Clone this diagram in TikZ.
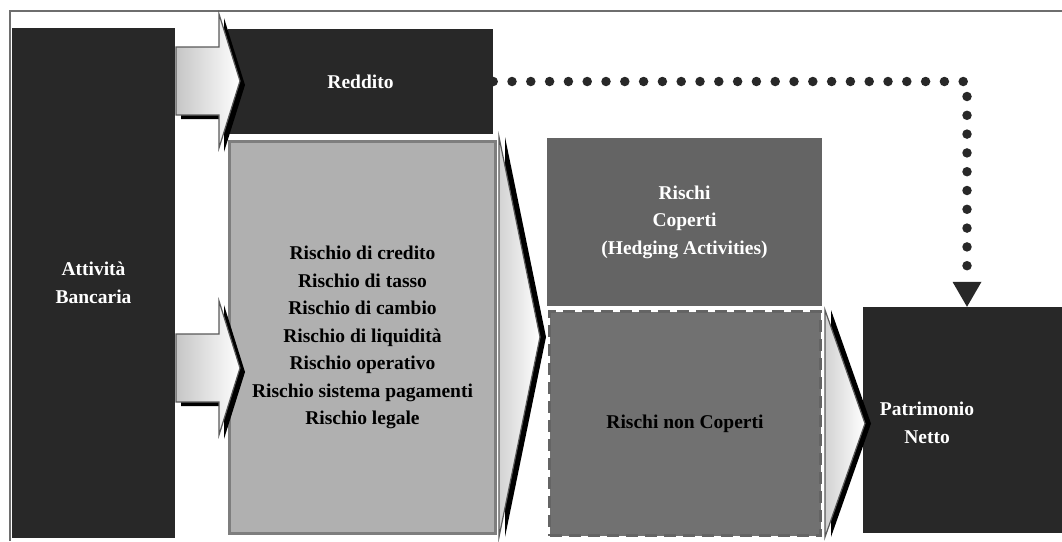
\documentclass[tikz,border=0pt]{standalone}
\usepackage{fontspec}
\setmainfont{Liberation Serif}
\usetikzlibrary{arrows.meta}
\tikzset{>=latex}
\definecolor{boxdark}{HTML}{282828}
\definecolor{riskfill}{HTML}{B0B0B0}
\definecolor{riskline}{HTML}{7E7E7E}
\definecolor{hedged}{HTML}{646464}
\definecolor{unhedged}{HTML}{717171}
\definecolor{frameline}{HTML}{6E6E6E}
\tikzset{
    box/.style={inner sep=0pt, align=center, font=\fontsize{19.5pt}{27.5pt}\selectfont\bfseries},
    darkbox/.style={box, fill=boxdark, text=white},
    dotline/.style={draw=boxdark, line width=9.5pt, line cap=round, dash pattern=on 0pt off 18.8pt,
        -{Triangle[length=25pt,width=29pt,line width=0pt]}},
}
\newcommand\blockarrow[2]{% left end of the shaft, centre line
    \fill[black] (#1+5,#2-30) -- (#1+48,#2-30) -- (#1+48,#2-63) -- (#1+69,#2+4) -- (#1+48,#2+71) -- (#1+48,#2+38) -- (#1+5,#2+38) -- cycle;
    \shadedraw[left color=gray!45, right color=white, draw=gray!70!black, line width=1.2pt]
        (#1,#2-34) -- (#1+43,#2-34) -- (#1+43,#2-67) -- (#1+64,#2) -- (#1+43,#2+67) -- (#1+43,#2+34) -- (#1,#2+34) -- cycle;
}
\newcommand\chevron[4]{% x, top, bottom, tip
    \fill[black] (#1+6,#2) -- (#4+6,{(#2+#3)/2}) -- (#1+6,#3) -- cycle;
    \shadedraw[left color=gray!35, right color=white, draw=gray!70!black, line width=1.2pt]
        (#1,#2) -- (#4,{(#2+#3)/2}) -- (#1,#3) -- cycle;
}

\begin{document}
\begin{tikzpicture}[x=1pt, y=-1pt]
    \useasboundingbox (0,0) rectangle (1062,541);
    \draw[frameline, line width=2.5pt] (10,541) -- (10,11) -- (1062,11);

    \node[darkbox, minimum width=163pt, minimum height=510pt] (attivita) at (93.5,283) {Attività\\Bancaria};
    \node[darkbox, minimum width=265pt, minimum height=105pt] (reddito) at (360.5,81.5) {Reddito};
    \node[box, fill=riskfill, draw=riskline, line width=3pt, minimum width=266pt, minimum height=392pt] (rischi) at (362.5,337.5)
        {Rischio di credito\\Rischio di tasso\\Rischio di cambio\\Rischio di liquidità\\Rischio operativo\\Rischio sistema pagamenti\\Rischio legale};
    \node[box, fill=hedged, text=white, minimum width=275pt, minimum height=168pt] (coperti) at (684.5,222)
        {Rischi\\Coperti\\(Hedging Activities)};
    \node[box, fill=unhedged, draw=hedged, line width=3pt, dash pattern=on 12pt off 7pt, minimum width=271pt, minimum height=224pt] (noncoperti) at (685,423.5)
        {Rischi non Coperti};
    \node[darkbox, minimum width=199pt, minimum height=226pt] (patrimonio) at (962.5,420) {};
    \node[box, text=white] (patrimoniotxt) at (927,423) {Patrimonio\\Netto};

    \blockarrow{176}{81}
    \blockarrow{176}{368}
    \chevron{499}{137}{537}{540}
    \chevron{825}{310}{537}{865}

    \draw[dotline] (reddito.east) -| ([xshift=4.5pt]patrimonio.north);
\end{tikzpicture}
\end{document}
